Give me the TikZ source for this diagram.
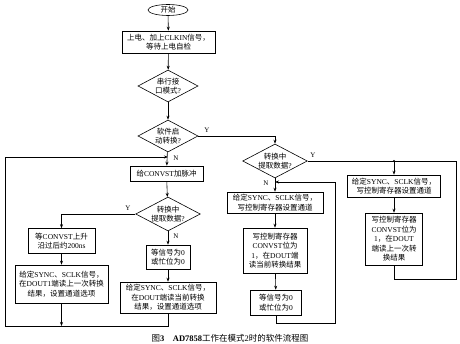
\documentclass[tikz,border=0pt]{standalone}
\usepackage{fontspec}
\setmainfont{Liberation Serif}
\newfontfamily\cjk{Noto Sans CJK SC}
\newcommand{\zh}[1]{{\cjk #1}}
\usetikzlibrary{shapes.geometric,arrows.meta}
\begin{document}
\begin{tikzpicture}[x=1pt,y=-1pt,
  every node/.style={font=\fontsize{7.5}{9.5}\selectfont, inner sep=0pt},
  box/.style={draw, line width=0.6pt, align=center},
  dia/.style={draw, diamond, aspect=1.9, line width=0.6pt, align=center, minimum width=60pt, minimum height=32pt},
  lbl/.style={font=\fontsize{7}{8}\selectfont},
  arr/.style={-{Stealth[length=4pt,width=3pt]}, line width=0.6pt},
  ln/.style={line width=0.6pt}]
\useasboundingbox (0,0) rectangle (460,344);
\fill[white] (0,0) rectangle (460,344);
% left column
\node[draw, ellipse, line width=0.6pt, minimum width=40pt, minimum height=11pt] (S) at (168,10) {\zh{开始}};
\node[box, minimum width=93pt, minimum height=22pt] (A) at (168.5,42) {\zh{上电、加上}CLKIN\zh{信号，}\\\zh{等待上电自检}};
\node[dia] (D1) at (168,86) {\zh{串行接}\\\zh{口模式}?};
\node[dia] (D2) at (168,136) {\zh{软件启}\\\zh{动转换}?};
\node[box, minimum width=73pt, minimum height=15pt] (B) at (166.5,173.5) {\zh{给}CONVST\zh{加脉冲}};
\node[dia] (D3) at (168,214) {\zh{转换中}\\\zh{提取数据}?};
\node[box, minimum width=67pt, minimum height=25pt] (C) at (61.5,241) {\zh{等}CONVST\zh{上升}\\\zh{沿过后约}200ns};
\node[box, minimum width=93pt, minimum height=38pt] (E) at (61.5,284) {\zh{给定}SYNC\zh{、}SCLK\zh{信号，}\\\zh{在}DOUT1\zh{端读上一次转换}\\\zh{结果，设置通道选项}};
\node[box, minimum width=44pt, minimum height=24pt] (F) at (168,257) {\zh{等信号为}0\\\zh{或忙位为}0};
\node[box, minimum width=96pt, minimum height=31pt] (G) at (168,297.5) {\zh{给定}SYNC\zh{、}SCLK\zh{信号，}\\\zh{在}DOUT\zh{端读当前转换}\\\zh{结果，设置通道选项}};
% middle column
\node[dia, minimum width=58pt] (D4) at (275,161) {\zh{转换中}\\\zh{提取数据}?};
\node[box, minimum width=96pt, minimum height=21pt] (H) at (275,202.5) {\zh{给定}SYNC\zh{、}SCLK\zh{信号，}\\\zh{写控制寄存器设置通道}};
\node[box, minimum width=64pt, minimum height=45pt] (I) at (275,250.5) {\zh{写控制寄存器}\\CONVST\zh{位为}\\1\zh{，在}DOUT\zh{端}\\\zh{读当前转换结果}};
\node[box, minimum width=51pt, minimum height=25pt] (J) at (276,302.5) {\zh{等信号为}0\\\zh{或忙位为}0};
% right column
\node[box, minimum width=93pt, minimum height=22pt] (K) at (394,186) {\zh{给定}SYNC\zh{、}SCLK\zh{信号，}\\\zh{写控制寄存器设置通道}};
\node[box, minimum width=57pt, minimum height=52pt] (L) at (394,239) {\zh{写控制寄存器}\\CONVST\zh{位为}\\1\zh{，在}DOUT\\\zh{端读上一次转}\\\zh{换结果}};
% coordinates
\coordinate (bl) at (5,326);
\coordinate (tl) at (5,157);
\coordinate (jr) at (335,323);
\coordinate (ret) at (275,182);
\coordinate (jn) at (394,161);
\coordinate (rt) at (456,161);
\coordinate (rr) at (456,279);
% connectors left
\draw[arr] (S) -- (A);
\draw[arr] (A) -- (D1);
\draw[arr] (D1) -- (D2);
\draw[arr] (D2) -- (B);
\draw[arr] (B) -- (D3);
\draw[arr] (D3.west) -| (C.north);
\draw[arr] (C) -- (E);
\draw[arr] (D3) -- (F);
\draw[arr] (F) -- (G);
\draw[arr] (E.south) -- (E.south |- bl);
\draw[arr] (G.south) |- (bl) -- (tl) -- (tl -| D2.south);
% connectors middle
\draw[arr] (D2.east) -| (D4.north);
\draw[arr] (D4) -- (H);
\draw[arr] (H) -- (I);
\draw[arr] (I) -- (J);
\draw[arr] (J.south) |- (jr) |- (ret);
% connectors right
\draw[ln] (D4.east) -- (rt) -- (rr) -| (L.south);
\draw[arr] (jn) -- (K);
\draw[arr] (K) -- (L);
\fill (jn) circle (1.2pt);
% labels
\node[lbl] (yD2) at (207,130) {Y};
\node[lbl] (nD2) at (176,158) {N};
\node[lbl] (yD3) at (128,208) {Y};
\node[lbl] (nD3) at (176,236) {N};
\node[lbl] (yD4) at (313,155) {Y};
\node[lbl] (nD4) at (266,183) {N};
% caption
\node[font=\fontsize{8.5}{10}\selectfont] (cap) at (230,338) {\zh{图}\textbf{3}\quad\textbf{AD7858}\zh{工作在模式}2\zh{时的软件流程图}};
\end{tikzpicture}
\end{document}
